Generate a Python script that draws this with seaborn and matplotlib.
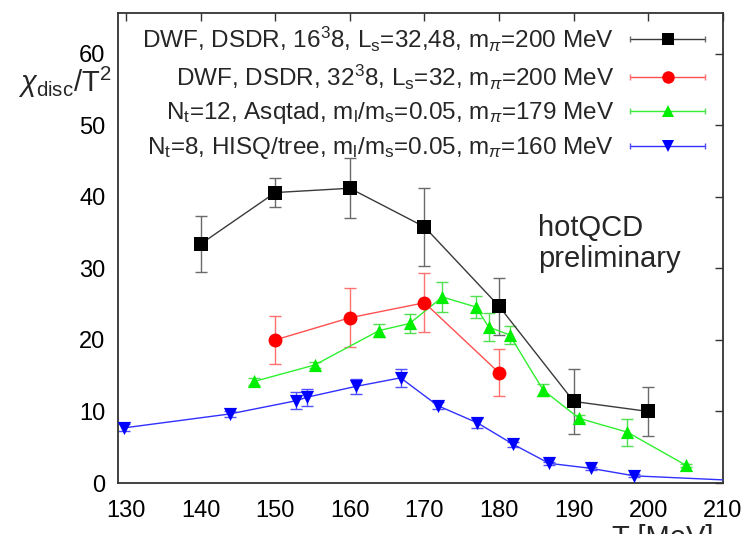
import matplotlib
matplotlib.use("Agg")
import matplotlib.pyplot as plt
import seaborn as sns
import numpy as np
from matplotlib.lines import Line2D
from matplotlib.legend_handler import HandlerLine2D, HandlerTuple

# ---- data ----
t_dwf16 = [140, 150, 160, 170, 180, 190, 200]
y_dwf16 = [33.4, 40.6, 41.2, 35.8, 24.7, 11.4, 10.0]
e_dwf16 = [3.9, 2.0, 4.2, 5.5, 4.0, 4.6, 3.4]

t_dwf32 = [150, 160, 170, 180]
y_dwf32 = [20.0, 23.1, 25.2, 15.4]
e_dwf32 = [3.3, 4.1, 4.1, 3.3]

t_asq = [147.2, 155.3, 163.9, 168.0, 172.4, 176.9, 178.6, 181.4, 185.9, 190.7, 197.2, 205.0]
y_asq = [14.2, 16.5, 21.3, 22.3, 26.0, 24.6, 21.8, 20.7, 13.0, 9.05, 7.1, 2.5]
e_asq = [0.5, 0.4, 0.9, 1.3, 2.1, 1.5, 2.0, 1.3, 0.8, 0.5, 1.9, 0.2]

t_hisq = [129.7, 143.9, 152.8, 154.3, 160.8, 166.8, 171.8, 177.1, 181.9, 186.7, 192.3, 198.1, 215.0]
y_hisq = [7.7, 9.65, 11.5, 12.0, 13.5, 14.7, 10.8, 8.4, 5.4, 2.75, 2.05, 1.0, 0.2]
e_hisq = [0.5, 0.4, 1.2, 1.2, 1.0, 1.3, 0.5, 0.7, 0.4, 0.2, 0.2, 0.2, 0.1]

labels = [
    r"DWF, DSDR, 16$^{3}$8, L$_{\mathrm{s}}$=32,48, m$_{\pi}$=200 MeV",
    r"DWF, DSDR, 32$^{3}$8, L$_{\mathrm{s}}$=32, m$_{\pi}$=200 MeV",
    r"N$_{\mathrm{t}}$=12, Asqtad, m$_{\mathrm{l}}$/m$_{\mathrm{s}}$=0.05, m$_{\pi}$=179 MeV",
    r"N$_{\mathrm{t}}$=8, HISQ/tree, m$_{\mathrm{l}}$/m$_{\mathrm{s}}$=0.05, m$_{\pi}$=160 MeV",
]
x_ticks = [130, 140, 150, 160, 170, 180, 190, 200, 210]
y_ticks = [0, 10, 20, 30, 40, 50, 60]

# ---- style ----
sns.set_theme(style="white")
plt.rcParams["font.family"] = ["Liberation Sans", "DejaVu Sans"]
plt.rcParams["mathtext.fontset"] = "custom"
plt.rcParams["mathtext.rm"] = "Liberation Sans"
plt.rcParams["mathtext.it"] = "Liberation Sans:italic"
plt.rcParams["mathtext.bf"] = "Liberation Sans:bold"

fig = plt.figure(figsize=(7.5, 5.34), dpi=100)
ax = fig.add_axes([118/750, 51/534, (723-118)/750, (483-13)/534])

series = [
    (t_dwf16, y_dwf16, e_dwf16, "black", "#3a3a3a", "#6a6a6a", "s", 9.5, 8.5),
    (t_dwf32, y_dwf32, e_dwf32, "#ff0000", "#ff5050", "#ff7070", "o", 10.0, 9.0),
    (t_asq, y_asq, e_asq, "#00ee00", "#30f030", "#50e050", "^", 9.5, 8.5),
    (t_hisq, y_hisq, e_hisq, "#0000ff", "#3030ff", "#5050ff", "v", 9.5, 8.5),
]

handles = []
hmap = {}
for (t, y, e, mc, lc, ec, mk, ms, lms), lab in zip(series, labels):
    ax.errorbar(t, y, yerr=e, fmt="none", ecolor=ec, elinewidth=1.0,
                capsize=4, capthick=1.0, zorder=2)
    sns.lineplot(x=t, y=y, ax=ax, color=lc, linewidth=1.0, sort=False,
                 zorder=3, legend=False)
    sns.scatterplot(x=t, y=y, ax=ax, color=mc, marker=mk, s=ms**2,
                    linewidth=0, zorder=4, legend=False)
    base = Line2D([], [], color=lc, lw=1.0)
    caps = Line2D([], [], color=ec, lw=0, marker="|", ms=5, mew=1.0)
    mark = Line2D([], [], color=mc, lw=0, marker=mk, ms=lms, mew=0)
    hmap[caps] = HandlerLine2D(numpoints=2, marker_pad=0.0)
    handles.append((base, caps, mark))

ax.set_xlim(128.93, 210)
ax.set_ylim(0, 65.7)
ax.set_xticks(x_ticks)
ax.set_yticks(y_ticks)
ax.tick_params(axis="both", which="both", direction="in", length=6, width=1.0,
               top=True, right=True, labelsize=17, colors="#333333",
               labelcolor="black")
ax.tick_params(axis="x", pad=12)
ax.tick_params(axis="y", pad=9)
for sp in ax.spines.values():
    sp.set_color("#333333")
    sp.set_linewidth(1.3)
ax.set_xlabel("")
ax.set_ylabel("")

hmap[tuple] = HandlerTuple(ndivide=1, pad=0)
leg = ax.legend(handles, labels, handler_map=hmap, loc="upper right",
                bbox_to_anchor=(1.0 - 8/605, 1.0 - 2/470), frameon=False,
                markerfirst=False, fontsize=17.5, handlelength=3.1,
                handletextpad=0.66, labelspacing=0.36, borderaxespad=0.3,
                borderpad=0.1, alignment="right")

fig.text(538/750, 1 - 236/534, "hotQCD", ha="left", va="baseline", fontsize=21)
fig.text(538/750, 1 - 267/534, "preliminary", ha="left", va="baseline", fontsize=21)

fig.text(65/750, 1 - 82/534, r"$\chi_{\mathrm{disc}}$/T$^2$", ha="center",
         va="center", fontsize=21)
fig.text(612/750, 1 - 524/534, "T [MeV]", ha="left", va="top", fontsize=21)

fig.savefig("out.png", dpi=100)
